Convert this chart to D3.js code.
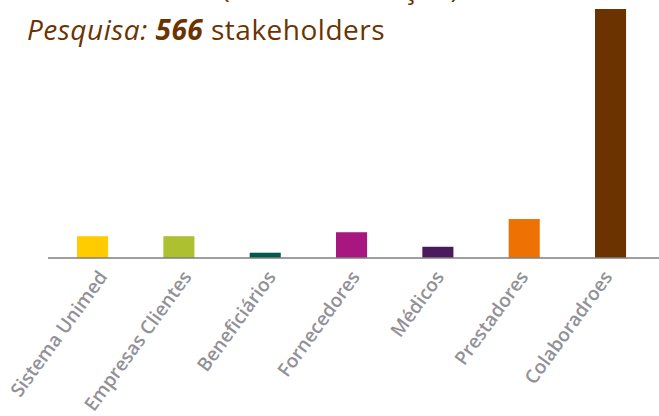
<!DOCTYPE html>
<html>
<head>
<meta charset="utf-8">
<script src="https://cdn.jsdelivr.net/npm/d3@7"></script>
<style>
  body { margin: 0; background: #fff; }
  svg { display: block; }
</style>
</head>
<body>
<div id="chart"></div>
<script>
// respondentes por grupo de stakeholders (total 566)
var categories = ['Sistema Unimed', 'Empresas Clientes', 'Beneficiários', 'Fornecedores',
                  'Médicos', 'Prestadores', 'Colaboradroes'];
var values = [33, 33, 8, 39, 17, 59, 377];
var colors = ['#ffcc00', '#adc02f', '#00594a', '#a8177f', '#4a1a5c', '#ee7203', '#6b3300'];

var width = 659,
    height = 416,
    baseY = 258,
    topY = 9;

var svg = d3.select('#chart').append('svg')
  .attr('width', width)
  .attr('height', height);

var x = d3.scaleBand()
  .domain(categories)
  .range([49.4, 653.7])
  .paddingInner(0.64)
  .paddingOuter(0.32);

// os rotulos ficam num espacamento um pouco menor que as barras
var labelX = d3.scalePoint()
  .domain(categories)
  .range([100, 605]);

var y = d3.scaleLinear()
  .domain([0, d3.max(values)])
  .range([baseY, topY]);

var titleFont = function(t) {
  return t.style('font-family', '"Open Sans", sans-serif')
    .style('font-size', '28px')
    .style('letter-spacing', '0.5px')
    .style('fill', '#6b3300');
};

// titulo (primeira linha cortada no topo)
svg.append('text')
  .attr('x', 27)
  .attr('y', -2)
  .call(titleFont)
  .text('Materialidade (Fase de Atuação)');

var sub = svg.append('text')
  .attr('x', 27)
  .attr('y', 40)
  .call(titleFont);
sub.append('tspan').style('font-style', 'italic').text('Pesquisa: ');
sub.append('tspan').style('font-style', 'italic').style('font-weight', 'bold').text(values.reduce(function(a, b) { return a + b; }, 0));
sub.append('tspan').text(' stakeholders');

svg.selectAll('.bar')
  .data(values)
  .enter().append('rect')
  .attr('class', 'bar')
  .attr('x', function(d, i) { return x(categories[i]); })
  .attr('y', function(d) { return y(d); })
  .attr('width', x.bandwidth())
  .attr('height', function(d) { return baseY - y(d); })
  .style('fill', function(d, i) { return colors[i]; });

svg.append('line')
  .attr('x1', 48)
  .attr('x2', width)
  .attr('y1', baseY)
  .attr('y2', baseY)
  .style('stroke', '#7f7f7f')
  .style('stroke-width', 1.5);

svg.selectAll('.label')
  .data(categories)
  .enter().append('text')
  .attr('class', 'label')
  .attr('transform', function(d) {
    return 'translate(' + labelX(d) + ',' + (baseY + 13) + ') rotate(-54)';
  })
  .attr('text-anchor', 'end')
  .attr('dy', '0.54em')
  .style('font-family', '"Open Sans", sans-serif')
  .style('font-size', '19px')
  .style('font-weight', 600)
  .style('fill', '#929197')
  .text(function(d) { return d; });
</script>
</body>
</html>
